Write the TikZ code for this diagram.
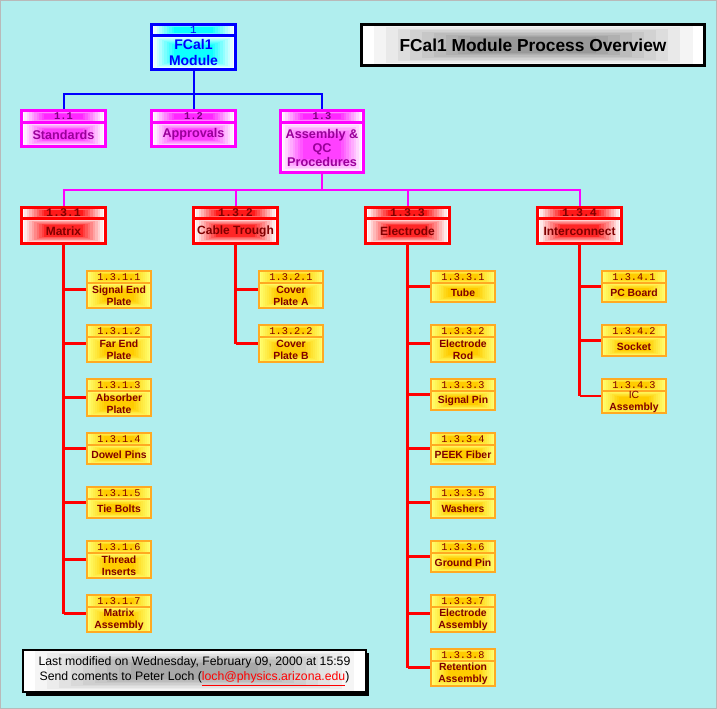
\documentclass[tikz,border=0pt]{standalone}
\usepackage{fontspec}
\setmainfont{Liberation Sans}
\newfontfamily\monof{Liberation Mono}
\usetikzlibrary{calc}
\definecolor{bgc}{HTML}{B0EEEE}
\definecolor{bluebd}{HTML}{0000FF}
\definecolor{cyanc}{HTML}{00FFFF}
\definecolor{magbd}{HTML}{FF00FF}
\definecolor{redbd}{HTML}{FF0000}
\definecolor{orgbd}{HTML}{FFAA22}
\definecolor{yelin}{HTML}{FFCC00}
\definecolor{yelout}{HTML}{FFFF70}
\definecolor{dred}{HTML}{800000}
\definecolor{purp}{HTML}{990099}
\definecolor{dpurp}{HTML}{800080}
\definecolor{grayin}{HTML}{999999}
\definecolor{grayft}{HTML}{A8A8A8}
\pgfdeclarelayer{bglayer}
\pgfsetlayers{bglayer,main}
\tikzset{
  boxgrad/.style n args={4}{path picture={
    \foreach \k in {0,...,9}{
      \pgfmathtruncatemacro\pct{\k*#4/9}
      \fill[#1!\pct!#2] let \p1=(path picture bounding box.south west),
        \p2=(path picture bounding box.north east),
        \n1={\k*#3*(\x2-\x1)/2},
        \n2={\k*#3*(\y2-\y1)/2} in
        ({\x1+\n1*1pt},{\y1+\n2*1pt}) rectangle ({\x2-\n1*1pt},{\y2-\n2*1pt});
    }}},
  base/.style={draw, outer sep=0pt, inner sep=0pt, anchor=north west, align=center},
  lzh/.style={base, draw=bluebd, line width=2.25pt, boxgrad={cyanc}{white}{0.06}{95}, text=bluebd, font=\monof\fontsize{8.2}{8.5}\selectfont},
  lzb/.style={base, draw=bluebd, line width=2.25pt, boxgrad={cyanc}{white}{0.06}{95}, text=bluebd, font=\bfseries\fontsize{10.5}{11.5}\selectfont},
  loh/.style={base, draw=magbd, line width=2.25pt, boxgrad={magbd}{white}{0.06}{85}, text=dpurp, font=\monof\bfseries\fontsize{7.8}{8}\selectfont},
  lob/.style={base, draw=magbd, line width=2.25pt, boxgrad={magbd}{white}{0.06}{75}, text=purp, font=\bfseries\fontsize{9.5}{10.5}\selectfont},
  lth/.style={base, draw=redbd, line width=2.25pt, boxgrad={redbd}{white}{0.06}{90}, text=dred, font=\monof\bfseries\fontsize{8.7}{9}\selectfont},
  ltb/.style={base, draw=redbd, line width=2.25pt, boxgrad={redbd}{white}{0.06}{85}, text=dred, font=\bfseries\fontsize{9}{10.5}\selectfont},
  lfh/.style={base, draw=orgbd, line width=1.5pt, boxgrad={yelin}{yelout}{0.06}{100}, text=dred, font=\monof\fontsize{7.7}{8}\selectfont},
  lfb/.style={base, draw=orgbd, line width=1.5pt, boxgrad={yelin}{yelout}{0.06}{100}, text=dred, font=\bfseries\fontsize{7.8}{9}\selectfont},
  bluel/.style={draw=bluebd, line width=1.5pt},
  magl/.style={draw=magbd, line width=1.5pt},
  redv/.style={draw=redbd, line width=1.6pt},
  redh/.style={draw=redbd, line width=2.1pt},
  titlebox/.style={draw=black, line width=2.25pt, outer sep=0pt, inner sep=0pt, anchor=north west, boxgrad={grayin}{white}{0.07}{100}, font=\bfseries\fontsize{13}{15}\selectfont},
  footbox/.style={draw=black, line width=1.5pt, outer sep=0pt, inner sep=0pt, anchor=north west, align=center, boxgrad={grayft}{white}{0.07}{100}, font=\fontsize{9.2}{11.5}\selectfont}
}
% name, style, x, y, w, header h, body h, number, text
\newcommand\wbs[9]{%
  \node[#2h, minimum width=#5*0.75pt, minimum height=#6*0.75pt] (#1h) at (#3,#4) {#8};
  \node[#2b, minimum width=#5*0.75pt, minimum height=#7*0.75pt] (#1) at (#1h.south west) {#9};
  \coordinate (#1m) at ($(#1h.north west)!.5!(#1.south west)$);
}
\begin{document}
\begin{tikzpicture}[x=0.75pt,y=-0.75pt]
\useasboundingbox (0,0) rectangle (717,709);
\begin{pgfonlayer}{bglayer}
\fill[bgc] (0,0) rectangle (717,709);
\draw[gray!55, line width=0.75pt] (0.5,0.5) rectangle (716.5,708.5);
\end{pgfonlayer}
% title
\node[titlebox, minimum width=343*0.75pt, minimum height=41*0.75pt] (title) at (361.5,24.5) {FCal1 Module Process Overview};
% level 0
\wbs{top}{lz}{151.5}{24.5}{84}{11}{34}{1}{FCal1\\Module}
% level 1
\wbs{a}{lo}{21.5}{110.5}{84}{12}{24}{1.1}{Standards}
\wbs{b}{lo}{151.5}{110.5}{84}{12}{24}{1.2}{Approvals}
\wbs{c}{lo}{280.5}{110.5}{83}{12}{50}{1.3}{Assembly \&\\QC\\Procedures}
% level 2
\wbs{m}{lt}{21.5}{207.5}{84}{11}{25}{1.3.1}{Matrix}
\wbs{ct}{lt}{193.5}{207.5}{84}{11}{25}{1.3.2}{Cable Trough}
\wbs{el}{lt}{365.5}{207.5}{84}{11}{25}{1.3.3}{Electrode}
\wbs{ic}{lt}{537.5}{207.5}{84}{11}{25}{1.3.4}{Interconnect}
% level 3: matrix
\wbs{ma}{lf}{87}{271}{64}{12}{25}{1.3.1.1}{Signal End\\Plate}
\wbs{mb}{lf}{87}{325}{64}{12}{25}{1.3.1.2}{Far End\\Plate}
\wbs{mc}{lf}{87}{379}{64}{12}{25}{1.3.1.3}{Absorber\\Plate}
\wbs{md}{lf}{87}{433}{64}{12}{19}{1.3.1.4}{Dowel Pins}
\wbs{me}{lf}{87}{487}{64}{12}{19}{1.3.1.5}{Tie Bolts}
\wbs{mf}{lf}{87}{541}{64}{12}{25}{1.3.1.6}{Thread\\Inserts}
\wbs{mg}{lf}{87}{595}{64}{12}{25}{1.3.1.7}{Matrix\\Assembly}
% cable trough
\wbs{ca}{lf}{259}{271}{64}{12}{25}{1.3.2.1}{Cover\\Plate A}
\wbs{cb}{lf}{259}{325}{64}{12}{25}{1.3.2.2}{Cover\\Plate B}
% electrode
\wbs{ea}{lf}{431}{271}{64}{12}{19}{1.3.3.1}{Tube}
\wbs{eb}{lf}{431}{325}{64}{12}{25}{1.3.3.2}{Electrode\\Rod}
\wbs{ec}{lf}{431}{379}{64}{12}{19}{1.3.3.3}{Signal Pin}
\wbs{ed}{lf}{431}{433}{64}{12}{19}{1.3.3.4}{PEEK Fiber}
\wbs{ee}{lf}{431}{487}{64}{12}{19}{1.3.3.5}{Washers}
\wbs{ef}{lf}{431}{541}{64}{12}{19}{1.3.3.6}{Ground Pin}
\wbs{eg}{lf}{431}{595}{64}{12}{25}{1.3.3.7}{Electrode\\Assembly}
\wbs{eh}{lf}{431}{649}{64}{12}{25}{1.3.3.8}{Retention\\Assembly}
% interconnect
\wbs{ia}{lf}{602}{271}{64}{12}{19}{1.3.4.1}{PC Board}
\wbs{ib}{lf}{602}{325}{64}{12}{19}{1.3.4.2}{Socket}
\wbs{ibc}{lf}{602}{379}{64}{12}{22}{1.3.4.3}{{\mdseries IC}\\Assembly}
% footer
\fill[black] (25.5,652.5) rectangle (369,695.5);
\node[footbox, minimum width=343*0.75pt, minimum height=42*0.75pt] (foot) at (23,650)
  {Last modified on Wednesday, February 09, 2000 at 15:59\\Send coments to Peter Loch (\textcolor{redbd}{\underline{loch@physics.arizona.edu}})};
% connectors
\begin{pgfonlayer}{bglayer}
\coordinate (bus1) at (193.5,94);
\draw[bluel] (top.south) -- (bus1);
\foreach \n in {ah,bh,ch} \draw[bluel] (\n.north) |- (bus1);
\coordinate (bus2) at (322,190.5);
\draw[magl] (c.south) -- (bus2);
\foreach \n in {mh,cth,elh,ich} \draw[magl] (\n.north) |- (bus2);
\draw[redv] (m.south) -- (m.south |- mgm);
\foreach \n in {ma,mb,mc,md,me,mf,mg} \draw[redh] (m.south |- \n m) -- (\n m);
\draw[redv] (ct.south) -- (ct.south |- cbm);
\foreach \n in {ca,cb} \draw[redh] (ct.south |- \n m) -- (\n m);
\draw[redv] (el.south) -- (el.south |- ehm);
\foreach \n in {ea,eb,ec,ed,ee,ef,eg,eh} \draw[redh] (el.south |- \n m) -- (\n m);
\draw[redv] (ic.south) -- (ic.south |- ibcm);
\foreach \n in {ia,ib,ibc} \draw[redh] (ic.south |- \n m) -- (\n m);
\end{pgfonlayer}
\end{tikzpicture}
\end{document}
